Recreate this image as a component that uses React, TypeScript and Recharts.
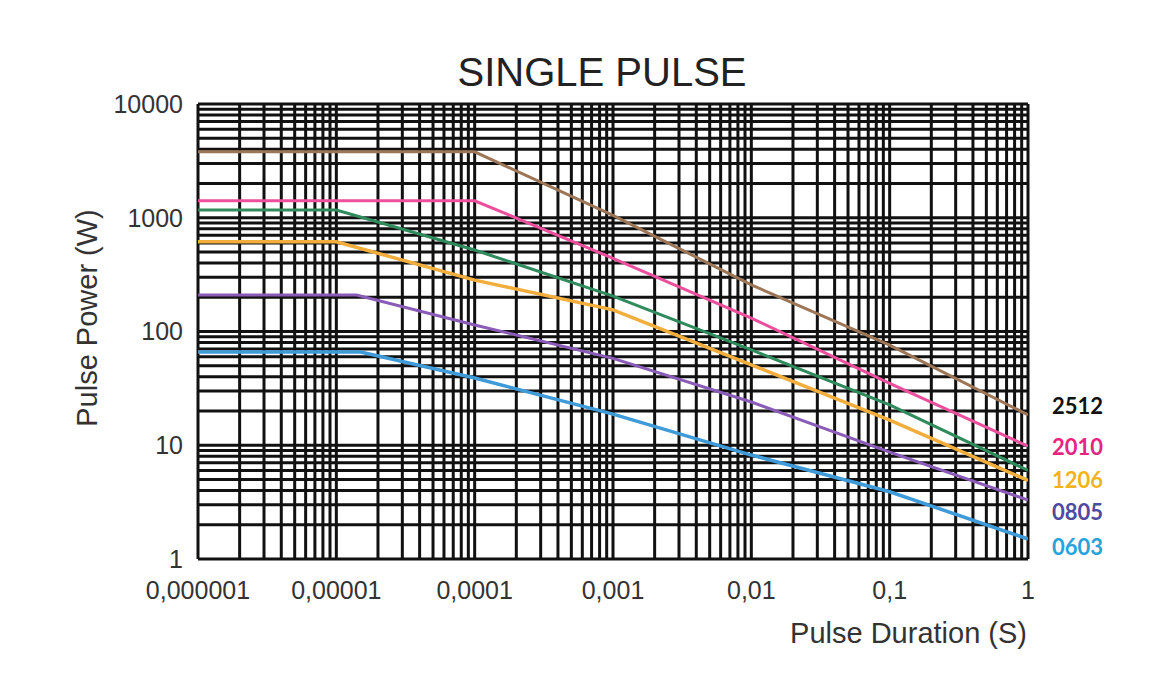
import { LineChart, Line, XAxis, YAxis, CartesianGrid } from 'recharts'

// pulse duration (s) / pulse power (W)
const ser2512 = [
  { t: 0.000001, p: 3800 }, { t: 0.0001, p: 3800 }, { t: 0.001, p: 1050 },
  { t: 0.01, p: 257 }, { t: 0.1, p: 76 }, { t: 1, p: 18.5 },
]
const ser2010 = [
  { t: 0.000001, p: 1410 }, { t: 0.0001, p: 1410 }, { t: 0.001, p: 440 },
  { t: 0.01, p: 131 }, { t: 0.1, p: 35 }, { t: 1, p: 9.8 },
]
const serGreen = [
  { t: 0.000001, p: 1170 }, { t: 0.00001, p: 1170 }, { t: 0.0001, p: 520 }, { t: 0.001, p: 205 },
  { t: 0.01, p: 69 }, { t: 0.1, p: 22.6 }, { t: 1, p: 6 },
]
const ser1206 = [
  { t: 0.000001, p: 615 }, { t: 0.00001, p: 615 }, { t: 0.0001, p: 283 }, { t: 0.001, p: 155 },
  { t: 0.01, p: 51 }, { t: 0.1, p: 16.6 }, { t: 1, p: 4.9 },
]
const ser0805 = [
  { t: 0.000001, p: 209 }, { t: 0.000014, p: 209 }, { t: 0.0001, p: 114 }, { t: 0.001, p: 58 },
  { t: 0.01, p: 24 }, { t: 0.1, p: 8.7 }, { t: 1, p: 3.3 },
]
const ser0603 = [
  { t: 0.000001, p: 66 }, { t: 0.000015, p: 66 }, { t: 0.0001, p: 39 }, { t: 0.001, p: 18.8 },
  { t: 0.01, p: 8.2 }, { t: 0.1, p: 3.9 }, { t: 1, p: 1.5 },
]

const xDecades = [0.000001, 0.00001, 0.0001, 0.001, 0.01, 0.1, 1]
const xTickLabels = ['0,000001', '0,00001', '0,0001', '0,001', '0,01', '0,1', '1']
const yDecades = [1, 10, 100, 1000, 10000]
const yTickLabels = ['1', '10', '100', '1000', '10000']
const minorSteps = [1, 2, 3, 4, 5, 6, 7, 8, 9]

const sizeLabels = [
  { text: '2512', color: '#111111', y: 414 },
  { text: '2010', color: '#e8247f', y: 455 },
  { text: '1206', color: '#f2b41e', y: 488 },
  { text: '0805', color: '#4b4ba0', y: 520 },
  { text: '0603', color: '#27a3db', y: 555 },
]

// full log grid: every 1..9 multiple inside each decade, plus the last decade edge
const gridTicks = (decades: number[]) => [
  ...decades.slice(0, -1).flatMap((d) => minorSteps.map((k) => k * d)),
  decades[decades.length - 1],
]

const decadeLabel = (decades: number[], labels: string[]) => (v: number) => {
  const i = decades.findIndex((d) => Math.abs(d - v) / d < 1e-6)
  return i >= 0 ? labels[i] : ''
}

const FONT = '"Liberation Sans", Arial, sans-serif'

export default function App() {
  return (
    <div style={{ position: 'absolute', left: 0, top: 0, background: '#fff', fontFamily: FONT }}>
      <LineChart width={1162} height={692} margin={{ top: 104, right: 134, bottom: 0, left: 0 }}>
        <CartesianGrid stroke="#111" strokeWidth={3} />
        <XAxis
          dataKey="t" type="number" scale="log" domain={[0.000001, 1]} allowDataOverflow
          ticks={gridTicks(xDecades)} interval={0} height={133}
          tickFormatter={decadeLabel(xDecades, xTickLabels)}
          axisLine={false} tickLine={false} tickSize={8} tickMargin={14}
          tick={{ fill: '#333', fontSize: 25, fontFamily: FONT }}
        />
        <YAxis
          type="number" scale="log" domain={[1, 10000]} allowDataOverflow
          ticks={gridTicks(yDecades)} interval={0} width={198}
          tickFormatter={decadeLabel(yDecades, yTickLabels)}
          axisLine={false} tickLine={false} tickSize={6} tickMargin={9}
          tick={{ fill: '#333', fontSize: 25, fontFamily: FONT }}
        />
        <Line data={ser2512} dataKey="p" stroke="#9c7656" strokeWidth={3} dot={false} isAnimationActive={false} />
        <Line data={ser2010} dataKey="p" stroke="#ec4f9c" strokeWidth={3} dot={false} isAnimationActive={false} />
        <Line data={serGreen} dataKey="p" stroke="#2f8a5c" strokeWidth={3} dot={false} isAnimationActive={false} />
        <Line data={ser1206} dataKey="p" stroke="#f2ae3c" strokeWidth={3.5} dot={false} isAnimationActive={false} />
        <Line data={ser0805} dataKey="p" stroke="#8a5cb8" strokeWidth={3} dot={false} isAnimationActive={false} />
        <Line data={ser0603} dataKey="p" stroke="#3f9ad8" strokeWidth={3.5} dot={false} isAnimationActive={false} />
        <text x={602} y={86} textAnchor="middle" fontSize={40} fill="#222" fontFamily={FONT}>SINGLE PULSE</text>
        <text x={1027} y={643} textAnchor="end" fontSize={29} fill="#333" fontFamily={FONT}>Pulse Duration (S)</text>
        <text x={0} y={0} transform="translate(97 318) rotate(-90)" textAnchor="middle" fontSize={29} fill="#333" fontFamily={FONT}>
          Pulse Power (W)
        </text>
        {sizeLabels.map((l) => (
          <text key={l.text} x={1052} y={l.y} fontSize={22} fontWeight="bold" fill={l.color} fontFamily="Lato, 'Open Sans', sans-serif">
            {l.text}
          </text>
        ))}
      </LineChart>
    </div>
  )
}
